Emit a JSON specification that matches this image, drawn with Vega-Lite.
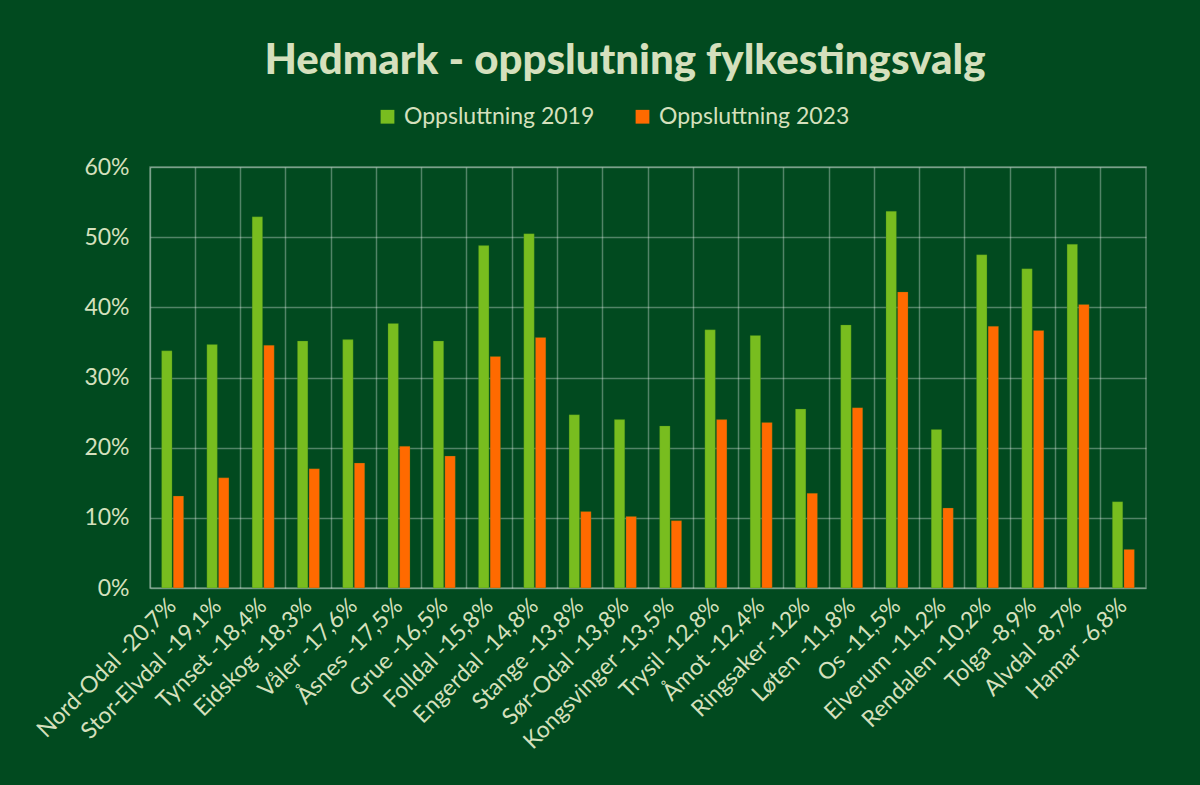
{
  "$schema": "https://vega.github.io/schema/vega-lite/v6.json",
  "width": 996,
  "height": 421,
  "autosize": {"type": "none"},
  "padding": {"left": 150, "top": 167, "right": 54, "bottom": 197},
  "background": "#014a1f",
  "title": {
    "text": "Hedmark - oppslutning fylkestingsvalg",
    "font": "Lato",
    "fontWeight": 900,
    "fontSize": 42,
    "color": "#d5e0bd",
    "anchor": "middle",
    "dx": -23,
    "offset": 22
  },
  "data": {
    "values": [
      {"kommune": "Nord-Odal -20,7%", "serie": "Oppsluttning 2019", "verdi": 33.8},
      {"kommune": "Nord-Odal -20,7%", "serie": "Oppsluttning 2023", "verdi": 13.1},
      {"kommune": "Stor-Elvdal -19,1%", "serie": "Oppsluttning 2019", "verdi": 34.7},
      {"kommune": "Stor-Elvdal -19,1%", "serie": "Oppsluttning 2023", "verdi": 15.7},
      {"kommune": "Tynset -18,4%", "serie": "Oppsluttning 2019", "verdi": 52.9},
      {"kommune": "Tynset -18,4%", "serie": "Oppsluttning 2023", "verdi": 34.6},
      {"kommune": "Eidskog -18,3%", "serie": "Oppsluttning 2019", "verdi": 35.2},
      {"kommune": "Eidskog -18,3%", "serie": "Oppsluttning 2023", "verdi": 17.0},
      {"kommune": "Våler -17,6%", "serie": "Oppsluttning 2019", "verdi": 35.4},
      {"kommune": "Våler -17,6%", "serie": "Oppsluttning 2023", "verdi": 17.8},
      {"kommune": "Åsnes -17,5%", "serie": "Oppsluttning 2019", "verdi": 37.7},
      {"kommune": "Åsnes -17,5%", "serie": "Oppsluttning 2023", "verdi": 20.2},
      {"kommune": "Grue -16,5%", "serie": "Oppsluttning 2019", "verdi": 35.2},
      {"kommune": "Grue -16,5%", "serie": "Oppsluttning 2023", "verdi": 18.8},
      {"kommune": "Folldal -15,8%", "serie": "Oppsluttning 2019", "verdi": 48.8},
      {"kommune": "Folldal -15,8%", "serie": "Oppsluttning 2023", "verdi": 33.0},
      {"kommune": "Engerdal -14,8%", "serie": "Oppsluttning 2019", "verdi": 50.5},
      {"kommune": "Engerdal -14,8%", "serie": "Oppsluttning 2023", "verdi": 35.7},
      {"kommune": "Stange -13,8%", "serie": "Oppsluttning 2019", "verdi": 24.7},
      {"kommune": "Stange -13,8%", "serie": "Oppsluttning 2023", "verdi": 10.9},
      {"kommune": "Sør-Odal -13,8%", "serie": "Oppsluttning 2019", "verdi": 24.0},
      {"kommune": "Sør-Odal -13,8%", "serie": "Oppsluttning 2023", "verdi": 10.2},
      {"kommune": "Kongsvinger -13,5%", "serie": "Oppsluttning 2019", "verdi": 23.1},
      {"kommune": "Kongsvinger -13,5%", "serie": "Oppsluttning 2023", "verdi": 9.6},
      {"kommune": "Trysil -12,8%", "serie": "Oppsluttning 2019", "verdi": 36.8},
      {"kommune": "Trysil -12,8%", "serie": "Oppsluttning 2023", "verdi": 24.0},
      {"kommune": "Åmot -12,4%", "serie": "Oppsluttning 2019", "verdi": 36.0},
      {"kommune": "Åmot -12,4%", "serie": "Oppsluttning 2023", "verdi": 23.6},
      {"kommune": "Ringsaker -12%", "serie": "Oppsluttning 2019", "verdi": 25.5},
      {"kommune": "Ringsaker -12%", "serie": "Oppsluttning 2023", "verdi": 13.5},
      {"kommune": "Løten -11,8%", "serie": "Oppsluttning 2019", "verdi": 37.5},
      {"kommune": "Løten -11,8%", "serie": "Oppsluttning 2023", "verdi": 25.7},
      {"kommune": "Os -11,5%", "serie": "Oppsluttning 2019", "verdi": 53.7},
      {"kommune": "Os -11,5%", "serie": "Oppsluttning 2023", "verdi": 42.2},
      {"kommune": "Elverum -11,2%", "serie": "Oppsluttning 2019", "verdi": 22.6},
      {"kommune": "Elverum -11,2%", "serie": "Oppsluttning 2023", "verdi": 11.4},
      {"kommune": "Rendalen -10,2%", "serie": "Oppsluttning 2019", "verdi": 47.5},
      {"kommune": "Rendalen -10,2%", "serie": "Oppsluttning 2023", "verdi": 37.3},
      {"kommune": "Tolga -8,9%", "serie": "Oppsluttning 2019", "verdi": 45.5},
      {"kommune": "Tolga -8,9%", "serie": "Oppsluttning 2023", "verdi": 36.7},
      {"kommune": "Alvdal -8,7%", "serie": "Oppsluttning 2019", "verdi": 49.0},
      {"kommune": "Alvdal -8,7%", "serie": "Oppsluttning 2023", "verdi": 40.4},
      {"kommune": "Hamar -6,8%", "serie": "Oppsluttning 2019", "verdi": 12.3},
      {"kommune": "Hamar -6,8%", "serie": "Oppsluttning 2023", "verdi": 5.5}
    ]
  },
  "mark": {"type": "bar", "stroke": "#2f7a1a", "strokeOpacity": 0.35, "strokeWidth": 0.8},
  "encoding": {
    "x": {
      "field": "kommune",
      "type": "nominal",
      "sort": null,
      "scale": {"paddingInner": 0, "paddingOuter": 0},
      "axis": {
        "title": null,
        "grid": true,
        "bandPosition": 0,
        "ticks": false,
        "domain": false,
        "labelAngle": -45,
        "labelAlign": "right",
        "labelBaseline": "middle",
        "labelFontSize": 23,
        "labelPadding": 14,
        "labelLimit": 0
      }
    },
    "xOffset": {
      "field": "serie",
      "type": "nominal",
      "scale": {"paddingInner": 0.1, "paddingOuter": 1.07}
    },
    "y": {
      "field": "verdi",
      "type": "quantitative",
      "scale": {"domain": [0, 60], "nice": false},
      "axis": {
        "title": null,
        "values": [0, 10, 20, 30, 40, 50, 60],
        "labelExpr": "datum.value + '%'",
        "ticks": false,
        "domain": false,
        "labelFontSize": 23,
        "labelPadding": 21
      }
    },
    "color": {
      "field": "serie",
      "type": "nominal",
      "scale": {"domain": ["Oppsluttning 2019", "Oppsluttning 2023"], "range": ["#78bd1f", "#ff6a00"]},
      "legend": {
        "title": null,
        "orient": "none",
        "direction": "horizontal",
        "legendX": 226,
        "legendY": -62,
        "symbolType": "square",
        "symbolSize": 190,
        "symbolStrokeWidth": 0,
        "labelFontSize": 23,
        "labelFont": "Lato",
        "labelColor": "#d5e0bd",
        "labelLimit": 0,
        "columnPadding": 36,
        "labelOffset": 5
      }
    }
  },
  "config": {
    "view": {"stroke": "#ffffff", "strokeOpacity": 0.32, "strokeWidth": 1.5},
    "axis": {
      "labelFont": "Lato",
      "labelColor": "#d5e0bd",
      "gridColor": "#ffffff",
      "gridOpacity": 0.32,
      "gridWidth": 1.5
    }
  }
}
